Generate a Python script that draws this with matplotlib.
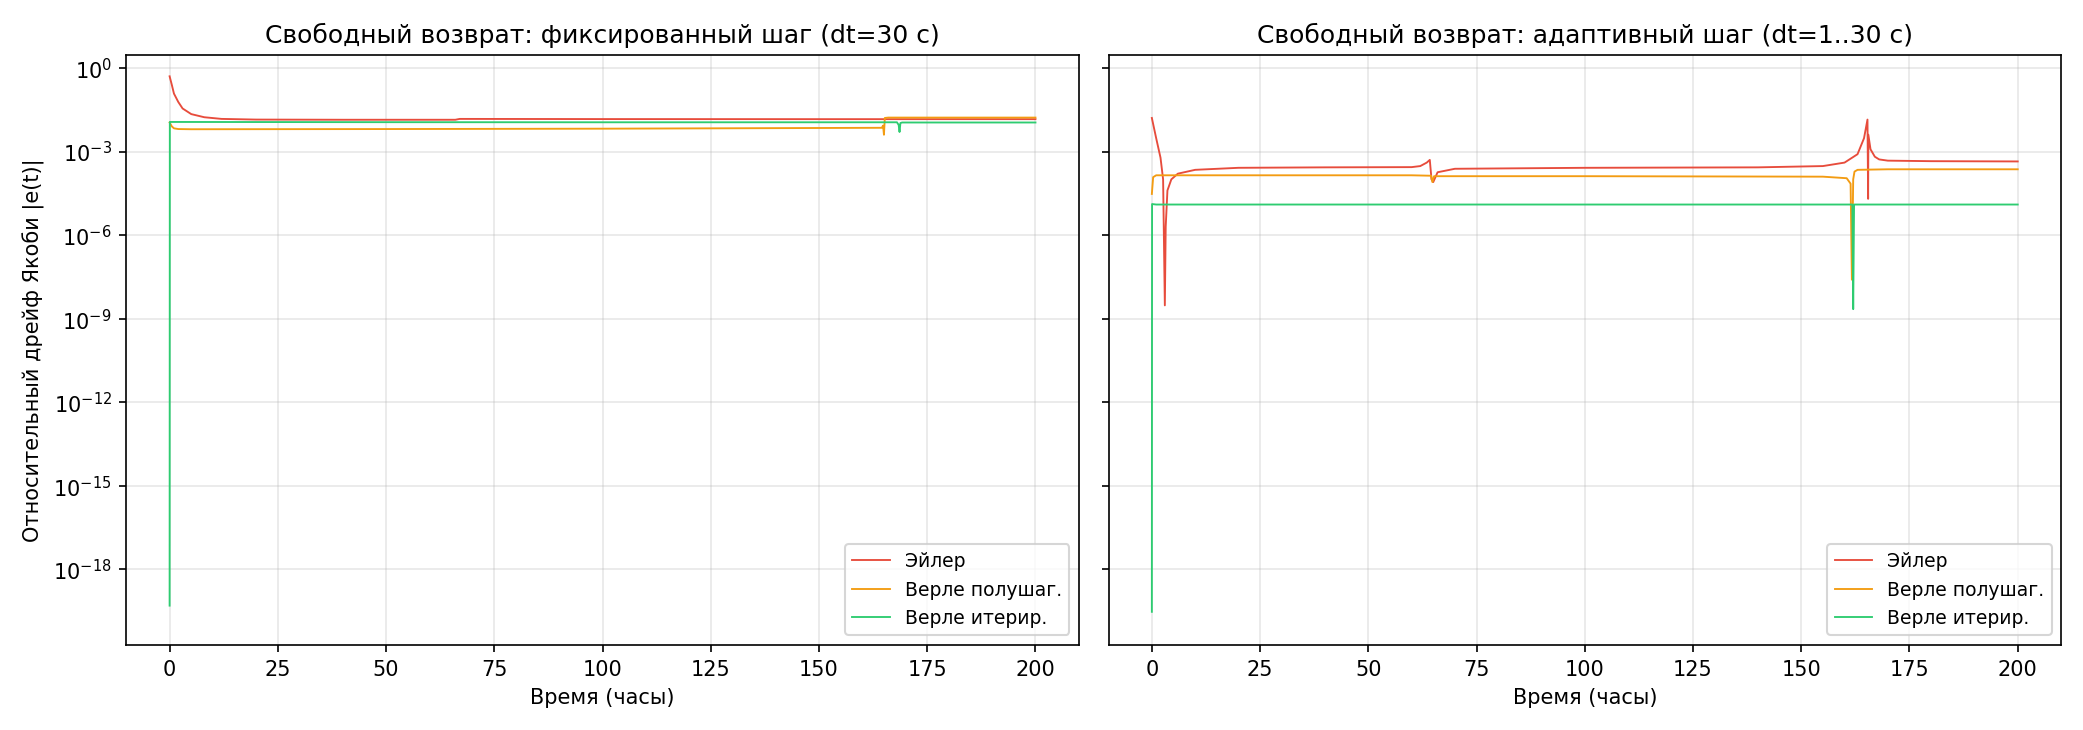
import matplotlib.pyplot as plt

# фиксированный шаг (dt=30 c)
fix_t_euler = [0, 0.5, 1, 2, 3, 5, 8, 12, 20, 40, 66, 67, 100, 150, 200]
fix_euler = [0.5, 0.25, 0.12, 0.06, 0.035, 0.022, 0.017, 0.0148, 0.014, 0.0138, 0.0138, 0.0148, 0.0146, 0.0145, 0.0145]
fix_t_half = [0, 0.5, 1, 2, 5, 50, 100, 164.5, 164.8, 165, 165.2, 166, 200]
fix_half = [0.011, 0.008, 0.0068, 0.0064, 0.0063, 0.0064, 0.0066, 0.0071, 0.0085, 0.004, 0.016, 0.0165, 0.0165]
fix_t_iter = [0, 0.05, 1, 50, 100, 168, 168.4, 168.6, 168.8, 169.2, 200]
fix_iter = [5e-20, 0.0115, 0.0115, 0.0113, 0.0112, 0.0112, 0.009, 0.005, 0.0105, 0.011, 0.011]

# адаптивный шаг (dt=1..30 c)
ad_t_euler = [0, 1, 2, 2.6, 3.0, 3.2, 3.6, 4.5, 6, 10, 20, 40, 60, 62, 63.5, 64.2, 64.6, 65, 66, 70, 100, 140, 155, 160, 163, 164.5, 165.3, 165.45, 165.5, 166, 167, 168, 170, 180, 200]
ad_euler = [0.016, 0.003, 6e-4, 1e-4, 3e-9, 2e-6, 4e-5, 1e-4, 1.6e-4, 2.2e-4, 2.6e-4, 2.7e-4, 2.75e-4, 3e-4, 4e-4, 5e-4, 1e-4, 8e-5, 1.8e-4, 2.4e-4, 2.6e-4, 2.7e-4, 3e-4, 4e-4, 8e-4, 0.003, 0.014, 2e-5, 0.004, 0.0012, 6.5e-4, 5.2e-4, 4.7e-4, 4.5e-4, 4.4e-4]
ad_t_half = [0, 0.3, 1, 20, 60, 64.5, 64.8, 65.2, 100, 155, 160.5, 161.4, 161.7, 162, 162.3, 163, 170, 200]
ad_half = [3e-5, 1.2e-4, 1.4e-4, 1.4e-4, 1.4e-4, 1.35e-4, 8e-5, 1.3e-4, 1.3e-4, 1.25e-4, 1.1e-4, 7e-5, 2.5e-8, 1e-4, 1.9e-4, 2.2e-4, 2.3e-4, 2.3e-4]
ad_t_iter = [0, 0.05, 1, 100, 161.8, 162.0, 162.2, 200]
ad_iter = [3e-20, 1.3e-5, 1.25e-5, 1.25e-5, 1.25e-5, 2.2e-9, 1.25e-5, 1.25e-5]

red = "#e74c3c"
orange = "#f39c12"
green = "#2ecc71"

fig, axes = plt.subplots(1, 2, figsize=(13.89, 4.87), dpi=150, sharey=True)

panels = [
    (axes[0], "Свободный возврат: фиксированный шаг (dt=30 с)",
     fix_t_euler, fix_euler, fix_t_half, fix_half, fix_t_iter, fix_iter),
    (axes[1], "Свободный возврат: адаптивный шаг (dt=1..30 с)",
     ad_t_euler, ad_euler, ad_t_half, ad_half, ad_t_iter, ad_iter),
]

for ax, title, te, e, th, h, ti, it in panels:
    ax.semilogy(te, e, color=red, lw=0.9, label="Эйлер")
    ax.semilogy(th, h, color=orange, lw=0.9, label="Верле полушаг.")
    ax.semilogy(ti, it, color=green, lw=0.9, label="Верле итерир.")
    ax.set_title(title, fontsize=12)
    ax.set_xlabel("Время (часы)")
    ax.grid(True, alpha=0.3)
    ax.minorticks_off()
    ax.legend(loc="lower right", fontsize=9)

axes[0].set_ylabel("Относительный дрейф Якоби |e(t)|")
axes[0].set_xlim(-10, 210)
axes[1].set_xlim(-10, 210)
axes[0].set_ylim(2e-21, 3)

plt.tight_layout()
plt.savefig("out.png")
